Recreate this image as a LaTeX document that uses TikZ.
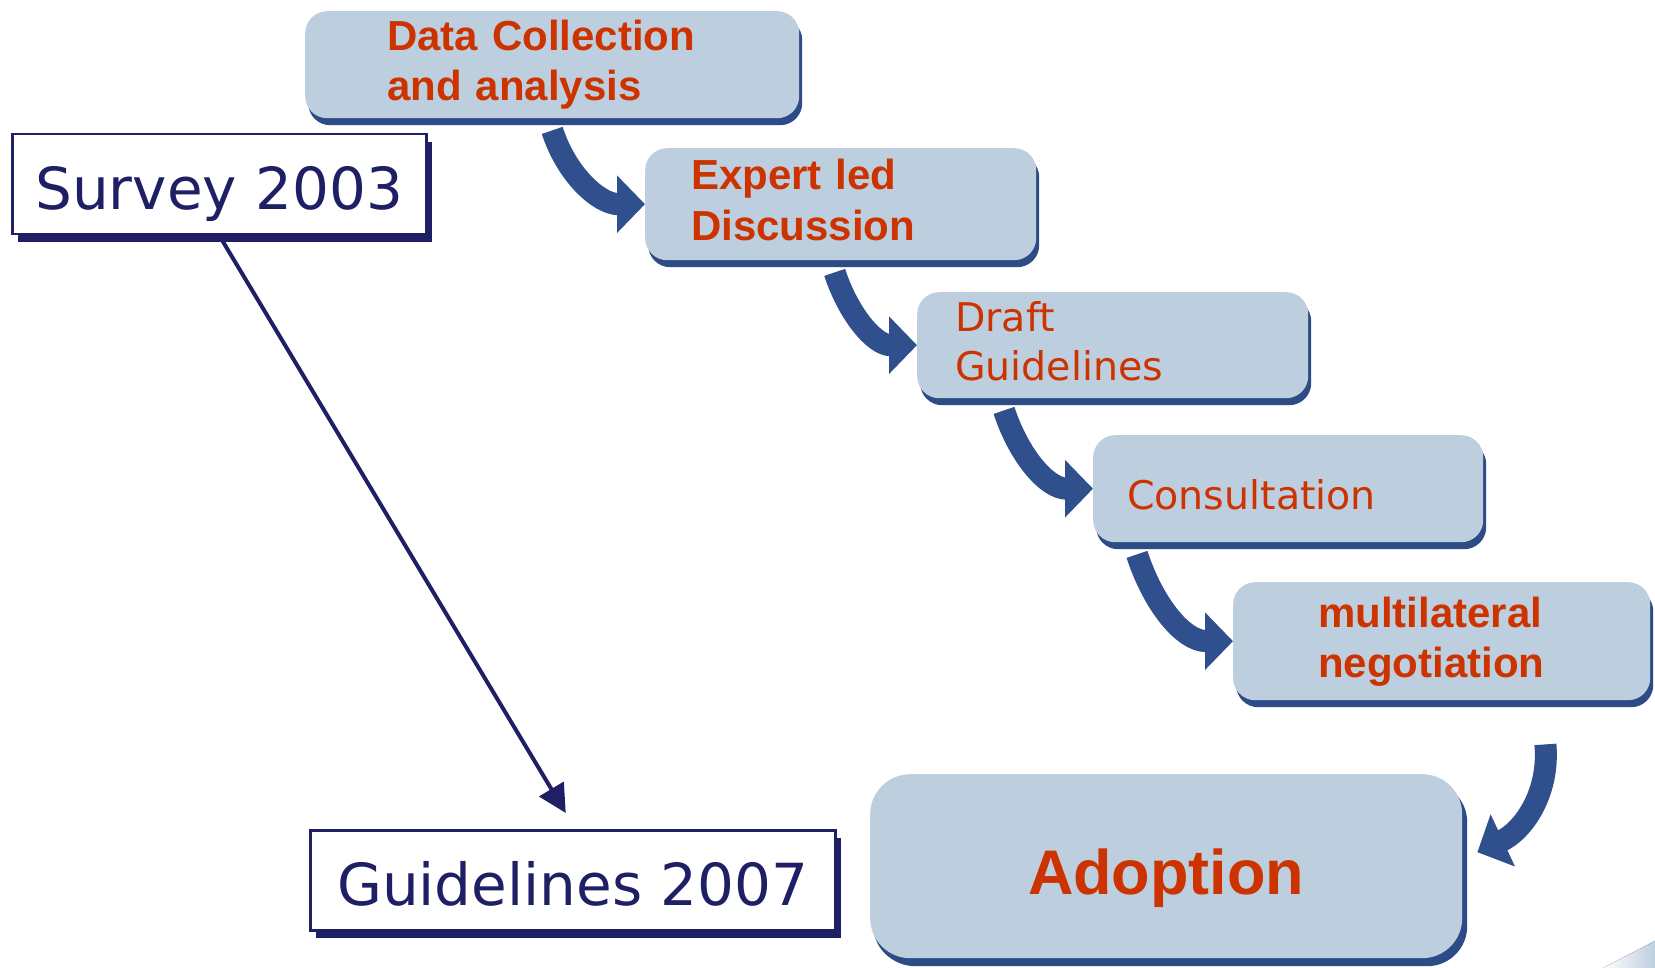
\documentclass[tikz,border=0pt]{standalone}
\usepackage{fontspec}
\usetikzlibrary{arrows.meta,shadows,calc}
\newfontfamily\arialfont{Liberation Sans}
\newfontfamily\verdfont{DejaVu Sans}
\definecolor{boxfill}{RGB}{189,206,223}
\definecolor{shadowblue}{RGB}{44,75,135}
\definecolor{arrowblue}{RGB}{47,80,140}
\definecolor{navy}{RGB}{31,31,102}
\definecolor{orangered}{RGB}{204,51,0}
\newcommand\bs{\rule[-9pt]{0pt}{40pt}}
\begin{document}
\begin{tikzpicture}[x=1pt,y=1pt,
 stepbox/.style={anchor=north west, fill=boxfill, rounded corners=22pt, inner ysep=0pt, align=left, text=orangered,
   drop shadow={shadow xshift=3pt,shadow yshift=-7pt,fill=shadowblue,opacity=1}},
 boldtxt/.style={font=\arialfont\bfseries\fontsize{42}{50}\selectfont},
 regtxt/.style={font=\verdfont\fontsize{39.5}{49}\selectfont},
 yearbox/.style={anchor=north west, draw=navy, line width=2.5pt, fill=white, inner sep=0pt, text=navy,
   font=\verdfont\fontsize{58}{70}\selectfont, text height=51pt, text depth=0pt,
   drop shadow={shadow xshift=6pt,shadow yshift=-8pt,fill=navy,opacity=1}},
 flow/.style={draw=arrowblue, line width=22pt, -{Triangle[length=28pt,width=56pt]}},
 trend/.style={draw=navy, line width=4pt, -{Triangle[length=28pt,width=28pt]}}
]
\useasboundingbox (0,0) rectangle (1655,-968);

% page corner
\fill[left color=white, right color=boxfill] (1603,-968) -- (1655,-941) -- (1655,-968) -- cycle;

% year boxes
\node[yearbox, minimum width=414pt, minimum height=100pt] (survey) at (11,-133) {Survey 2003};
\node[yearbox, minimum width=525pt, minimum height=100pt] (guide) at (309,-829) {Guidelines 2007};

% step boxes
\node[stepbox, boldtxt, text width=330pt, inner xsep=82pt, minimum height=107pt] (collect) at (305,-11)
  {\bs Data Collection\\\bs and analysis};
\node[stepbox, boldtxt, text width=299pt, inner xsep=46pt, minimum height=112pt] (expert) at (645,-148)
  {\bs Expert led\\[1pt]\bs Discussion};
\node[stepbox, regtxt, text width=315pt, inner xsep=38pt, minimum height=106pt] (draft) at (917,-292)
  {\bs Draft\\\bs Guidelines};
\node[stepbox, regtxt, text width=322pt, inner xsep=34pt, minimum height=107pt, text height=42pt, text depth=0pt] (consult) at (1093,-435)
  {Consultation};
\node[stepbox, boldtxt, text width=247pt, inner xsep=85pt, minimum height=118pt] (multi) at (1233,-582)
  {\bs multilateral\\\bs negotiation};
\node[stepbox, font=\arialfont\bfseries\fontsize{63}{75}\selectfont, rounded corners=40pt, align=center,
  minimum width=592pt, minimum height=184pt, inner xsep=0pt, text height=56pt, text depth=0pt,
  drop shadow={shadow xshift=5pt,shadow yshift=-8pt,fill=shadowblue,opacity=1}] (adopt) at (870,-774)
  {Adoption};

% curved flow arrows
\draw[flow] ([yshift=-12pt]collect.south) to[out=-72,in=180] (expert.west);
\draw[flow] ([xshift=-6pt,yshift=-12pt]expert.south) to[out=-72,in=180] (draft.west);
\draw[flow] ([xshift=87pt,yshift=-12pt]draft.south west) to[out=-72,in=180] (consult.west);
\draw[flow] ([xshift=44pt,yshift=-12pt]consult.south west) to[out=-72,in=180] (multi.west);
\draw[flow] ([xshift=-105pt,yshift=-44pt]multi.south east) to[out=-85,in=25] ([xshift=15pt,yshift=14pt]adopt.east);

% straight arrow
\draw[trend] (survey.south) -- ([xshift=-7pt,yshift=16pt]guide.north);
\end{tikzpicture}
\end{document}
